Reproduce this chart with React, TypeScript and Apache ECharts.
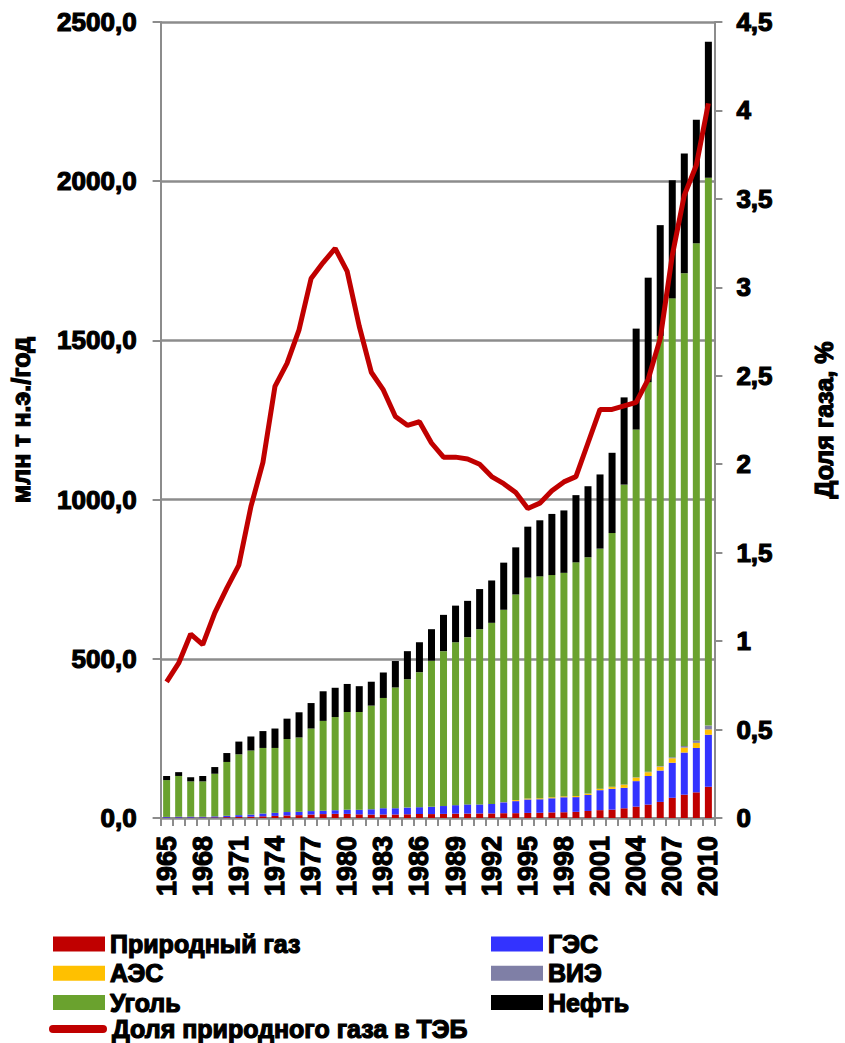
import React, { useEffect, useRef } from "react";
import * as echarts from "echarts";

const years: string[] = [];
for (let y = 1965; y <= 2010; y++) years.push(String(y));

// млн т н.э./год
const gas = [1.0, 1.2, 1.2, 1.3, 1.7, 2.6, 3.3, 4.2, 5.3, 6.6,
  8.0, 9.0, 10.9, 12.3, 13.1, 12.9, 11.5, 10.8, 11.0, 11.0,
  11.7, 12.5, 12.3, 12.9, 13.7, 13.9, 14.2, 14.3, 15.1, 15.2,
  16.0, 16.4, 17.6, 18.1, 19.4, 22.1, 24.7, 26.3, 30.5, 35.7,
  42.1, 50.5, 63.5, 73.2, 80.6, 98.1];
const hydro = [2.4, 2.8, 2.9, 2.6, 3.4, 4.4, 5.7, 6.5, 8.8, 9.6,
  10.7, 10.4, 10.8, 10.4, 11.3, 13.2, 14.2, 16.6, 19.7, 19.7,
  20.9, 21.5, 22.7, 24.7, 26.7, 28.7, 28.3, 29.6, 34.2, 37.8,
  42.3, 42.5, 44.4, 47.1, 46.2, 50.2, 62.7, 65.2, 64.3, 80.1,
  89.8, 98.6, 110.0, 132.4, 139.4, 163.4];
const nuclear = [0, 0, 0, 0, 0, 0, 0, 0, 0, 0,
  0, 0, 0, 0, 0, 0, 0, 0, 0, 0,
  0, 0, 0, 0, 0, 0, 0, 0.1, 0.6, 3.3,
  2.9, 3.2, 3.3, 3.2, 3.4, 3.8, 4.0, 5.7, 9.8, 11.4,
  12.0, 12.4, 14.1, 15.5, 15.9, 16.7];
const renewables = [0, 0, 0, 0, 0, 0, 0, 0, 0, 0,
  0, 0, 0, 0, 0, 0, 0, 0, 0, 0,
  0, 0, 0, 0, 0, 0.1, 0.1, 0.1, 0.1, 0.1,
  0.2, 0.2, 0.2, 0.3, 0.3, 0.6, 0.7, 0.8, 0.9, 1.0,
  1.4, 2.2, 3.2, 5.0, 7.8, 12.1];
const coal = [115.6, 128.0, 110.9, 111.1, 133.9, 169.0, 191.0, 201.3, 205.9, 203.8,
  229.3, 233.6, 259.3, 282.3, 292.6, 306.9, 307.3, 325.6, 346.3, 379.3,
  403.4, 424.0, 459.0, 486.4, 511.6, 525.3, 550.4, 568.9, 604.0, 645.6,
  693.6, 696.7, 697.5, 701.3, 733.7, 742.3, 753.9, 797.0, 941.5, 1091.8,
  1223.7, 1350.3, 1441.2, 1484.9, 1561.3, 1720.7];
const oil = [13, 12, 13, 17, 21, 28, 40, 44, 53, 61,
  64, 79, 80, 93, 92, 88, 81, 75, 80, 83,
  88, 94, 99, 114, 115, 114, 126, 133, 148, 148,
  160, 176, 192, 196, 211, 223, 233, 252, 274, 317,
  328, 348, 371, 376, 388, 427];
// Доля природного газа в ТЭБ, %
const gasShare = [0.77, 0.875, 1.04, 0.98, 1.16, 1.30, 1.43, 1.76, 2.01, 2.44,
  2.57, 2.76, 3.05, 3.14, 3.22, 3.09, 2.78, 2.52, 2.42, 2.27,
  2.22, 2.24, 2.12, 2.04, 2.04, 2.03, 2.00, 1.93, 1.89, 1.84,
  1.75, 1.78, 1.85, 1.90, 1.93, 2.12, 2.31, 2.31, 2.33, 2.35,
  2.48, 2.71, 3.18, 3.52, 3.69, 4.04];

const FONT = "'Liberation Sans', Arial, sans-serif";
const GRAY = "#8c8c8c";

const txt = (size: number) => ({
  fontFamily: FONT,
  fontWeight: "bold" as const,
  fontSize: size,
  color: "#000",
  textBorderColor: "#000",
  textBorderWidth: 1.2,
});

export default function App() {
  const ref = useRef<HTMLDivElement>(null);
  useEffect(() => {
    if (!ref.current) return;
    const chart = echarts.init(ref.current, null, { renderer: "svg" });
    const barBase = { type: "bar", stack: "total", barWidth: 7, yAxisIndex: 0 };
    const legendText = { ...txt(25), lineHeight: 26 };
    chart.setOption({
      animation: false,
      backgroundColor: "#fff",
      grid: { left: 155, top: 22, width: 575, height: 796, containLabel: false },
      legend: [
        {
          left: 48, top: 926, orient: "vertical", icon: "rect",
          itemWidth: 52, itemHeight: 15, itemGap: 3,
          data: ["Природный газ", "АЭС", "Уголь"], textStyle: legendText,
        },
        {
          left: 486, top: 926, orient: "vertical", icon: "rect",
          itemWidth: 52, itemHeight: 15, itemGap: 3,
          data: ["ГЭС", "ВИЭ", "Нефть"], textStyle: legendText,
        },
        {
          left: 44, top: 1011, orient: "vertical",
          icon: "path://M4,0 L54,0 A4,4 0 0 1 54,8 L4,8 A4,4 0 0 1 4,0 Z",
          itemWidth: 58, itemHeight: 8,
          data: ["Доля природного газа в ТЭБ"], textStyle: legendText,
        },
      ],
      xAxis: {
        type: "category",
        data: years,
        axisLine: { lineStyle: { color: GRAY, width: 2 } },
        axisTick: { show: true, interval: 0, length: 8, lineStyle: { color: GRAY, width: 2 } },
        axisLabel: { interval: 2, rotate: 90, margin: 18, ...txt(27) },
      },
      yAxis: [
        {
          type: "value", min: 0, max: 2500, interval: 500, position: "left",
          axisLine: { show: true, lineStyle: { color: GRAY, width: 2 } },
          axisTick: { show: true, length: 8, lineStyle: { color: GRAY, width: 2 } },
          splitLine: { show: true, lineStyle: { color: GRAY, width: 2.5 } },
          axisLabel: {
            margin: 24, ...txt(26),
            formatter: (v: number) => v.toFixed(1).replace(".", ","),
          },
          name: "млн т н.э./год", nameLocation: "middle", nameGap: 127, nameRotate: 90,
          nameTextStyle: txt(25),
        },
        {
          type: "value", min: 0, max: 4.5, interval: 0.5, position: "right",
          axisLine: { show: true, lineStyle: { color: GRAY, width: 2 } },
          axisTick: { show: true, length: 8, lineStyle: { color: GRAY, width: 2 } },
          splitLine: { show: false },
          axisLabel: {
            margin: 22, ...txt(26),
            formatter: (v: number) => String(v).replace(".", ","),
          },
          name: "Доля газа, %", nameLocation: "middle", nameGap: 97, nameRotate: 90,
          nameTextStyle: txt(25),
        },
      ],
      series: [
        { ...barBase, name: "Природный газ", data: gas, itemStyle: { color: "#c00000" } },
        { ...barBase, name: "ГЭС", data: hydro, itemStyle: { color: "#3333ff" } },
        { ...barBase, name: "АЭС", data: nuclear, itemStyle: { color: "#ffc000" } },
        { ...barBase, name: "ВИЭ", data: renewables, itemStyle: { color: "#7f7fa6" } },
        { ...barBase, name: "Уголь", data: coal, itemStyle: { color: "#6aa22e" } },
        { ...barBase, name: "Нефть", data: oil, itemStyle: { color: "#000000" } },
        {
          type: "line", name: "Доля природного газа в ТЭБ", yAxisIndex: 1,
          data: gasShare, symbol: "none", smooth: false, z: 5,
          lineStyle: { color: "#c00000", width: 5 },
          itemStyle: { color: "#c00000" },
        },
      ],
    });
    return () => chart.dispose();
  }, []);
  return (
    <div
      ref={ref}
      style={{ position: "fixed", left: 0, top: 0, width: "845px", height: "1043px" }}
    />
  );
}
